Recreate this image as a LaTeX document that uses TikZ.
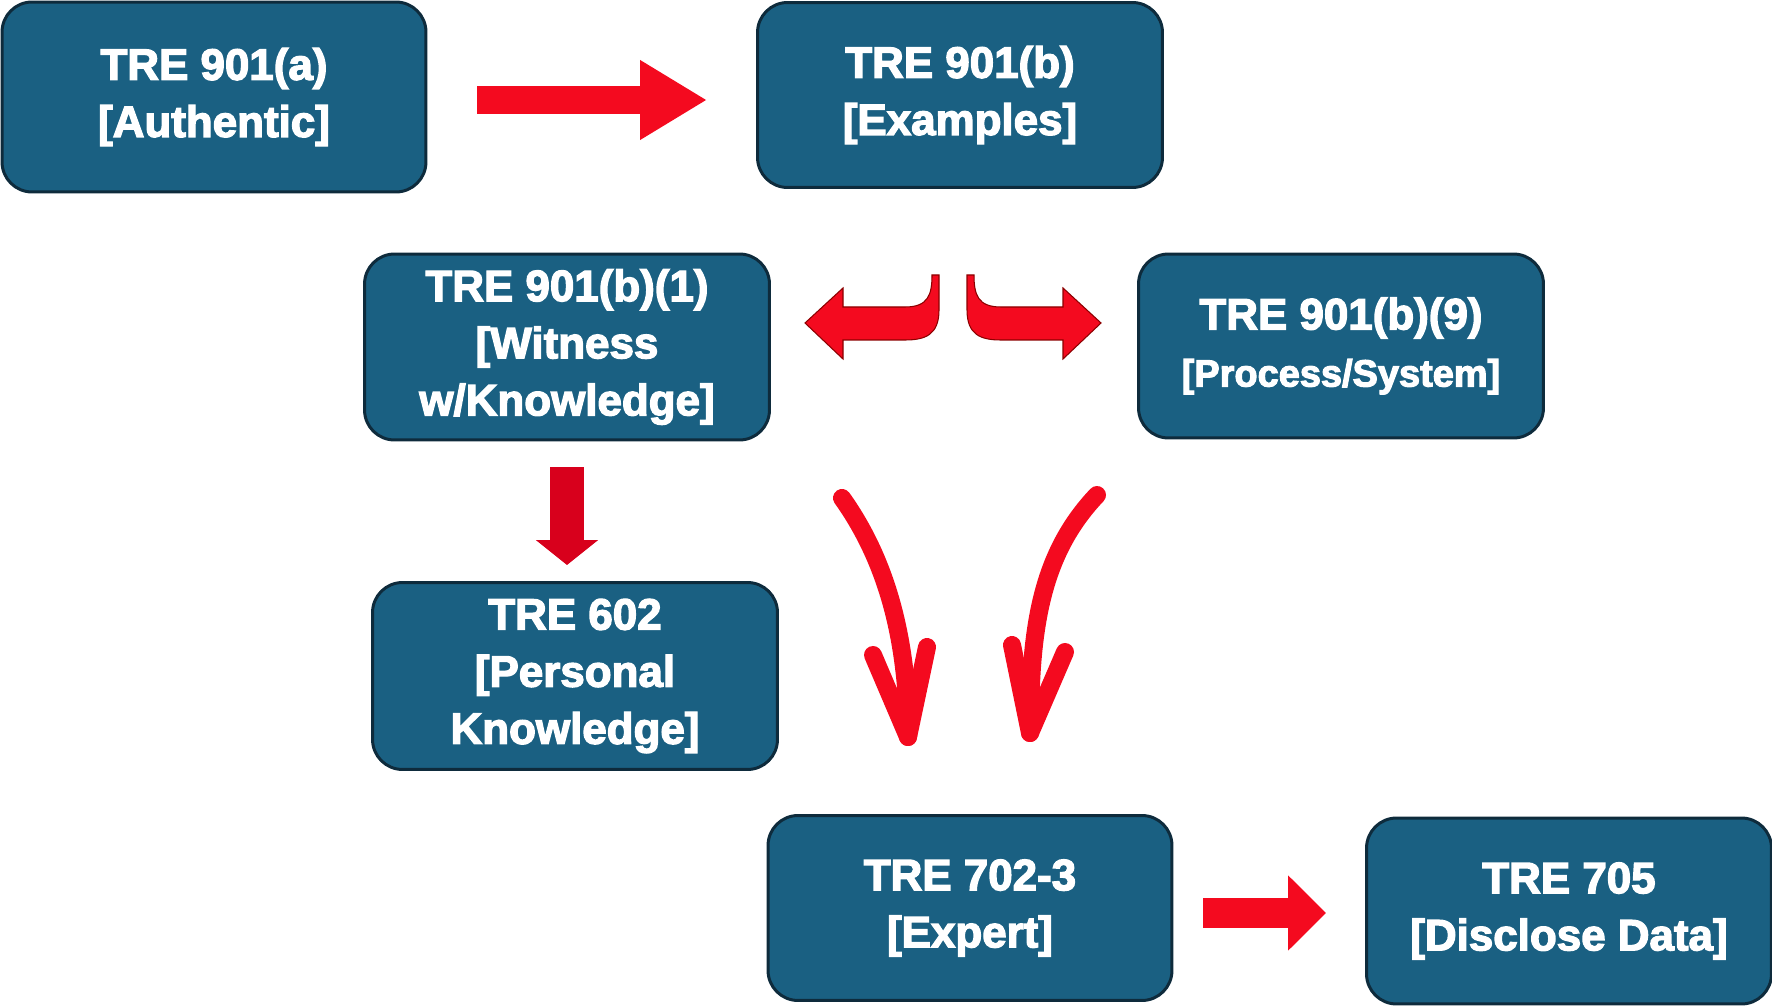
\documentclass[tikz,border=0pt]{standalone}
\usepackage{fontspec}
\setmainfont[BoldFeatures={FakeBold=3}]{Liberation Sans}
\usepackage{xcolor}
\usetikzlibrary{arrows.meta}

\definecolor{boxblue}{HTML}{1A6082}
\definecolor{boxedge}{HTML}{0E2B3C}
\definecolor{arrowred}{HTML}{F40A1F}
\definecolor{downred}{HTML}{D8001C}

\tikzset{
  tre/.style={draw=boxedge, line width=1.7pt, fill=boxblue, rounded corners=0.6cm,
    minimum width=8.1cm, minimum height=3.72cm, text=white, align=center,
    font=\bfseries\fontsize{25}{32.5}\selectfont, inner sep=0pt},
  fatarrow/.style={draw=arrowred, line width=0.56cm},
  handarrow/.style={draw=arrowred, line width=0.36cm, line cap=round, line join=round},
  bendarrow/.style={fill=arrowred, draw=red!55!black, line width=0.6pt}
}

\begin{document}
\begin{tikzpicture}[x=0.02cm,y=-0.02cm]
  \useasboundingbox (0,0) rectangle (1772,1006);

  % boxes
  \node[tre, minimum width=8.48cm, minimum height=3.8cm] (auth) at (214,97) {TRE 901(a)\\{}[Authentic]};
  \node[tre, minimum height=3.7cm] (exam) at (960,95) {TRE 901(b)\\{}[Examples]};
  \node[tre] (witn) at (567,347) {TRE 901(b)(1)\\{}[Witness\\w/Knowledge]};
  \node[tre, minimum height=3.68cm] (proc) at (1341,346) {TRE 901(b)(9)\\{\fontsize{21.6}{28}\selectfont [Process/System]}};
  \node[tre, minimum height=3.74cm] (pers) at (575,676) {TRE 602\\{}[Personal\\Knowledge]};
  \node[tre, minimum width=8.08cm, minimum height=3.7cm] (expe) at (970,908) {TRE 702-3\\{}[Expert]};
  \node[tre] (disc) at (1569,911) {TRE 705\\{}[Disclose Data]};

  % straight arrows
  \draw[fatarrow, -{Triangle[length=1.34cm,width=1.5cm]}, shorten <=1cm, shorten >=0.98cm]
    ([yshift=-0.06cm]auth.east) -- ([yshift=-0.06cm]auth.east -| exam.west);
  \draw[fatarrow, line width=0.6cm, -{Triangle[length=0.76cm,width=1.46cm]}, shorten <=0.6cm, shorten >=0.78cm]
    ([yshift=-0.1cm]expe.east) -- ([yshift=-0.1cm]expe.east -| disc.west);
  \draw[draw=downred, line width=0.68cm, -{Triangle[length=0.5cm,width=1.22cm]}, shorten <=0.52cm, shorten >=0.32cm]
    (witn.south) -- (witn.south |- pers.north);

  % bent arrows below 901(b)
  \foreach \s in {1,-1} {
    \begin{scope}[xshift=953*0.02cm, xscale=\s]
      \path[bendarrow] (-148,323) -- (-110,288) -- (-110,307) -- (-48,307)
        .. controls (-25,307) and (-21,295) .. (-21,275) -- (-14,275) -- (-14,310)
        .. controls (-14,335) and (-28,340) .. (-48,340) -- (-110,340) -- (-110,359) -- cycle;
    \end{scope}
  }

  % hand drawn arrows
  \coordinate (l0) at (842,498);
  \coordinate (l1) at (908,737);
  \coordinate (r0) at (1097,495);
  \coordinate (r1) at (1030,733);
  \draw[handarrow] (l0) .. controls (887,561) and (908,640) .. (l1);
  \draw[handarrow] (873,655) -- (l1) -- (927,647);
  \draw[handarrow] (r0) .. controls (1040,555) and (1030,630) .. (r1);
  \draw[handarrow] (1012,645) -- (r1) -- (1065,652);
\end{tikzpicture}
\end{document}
